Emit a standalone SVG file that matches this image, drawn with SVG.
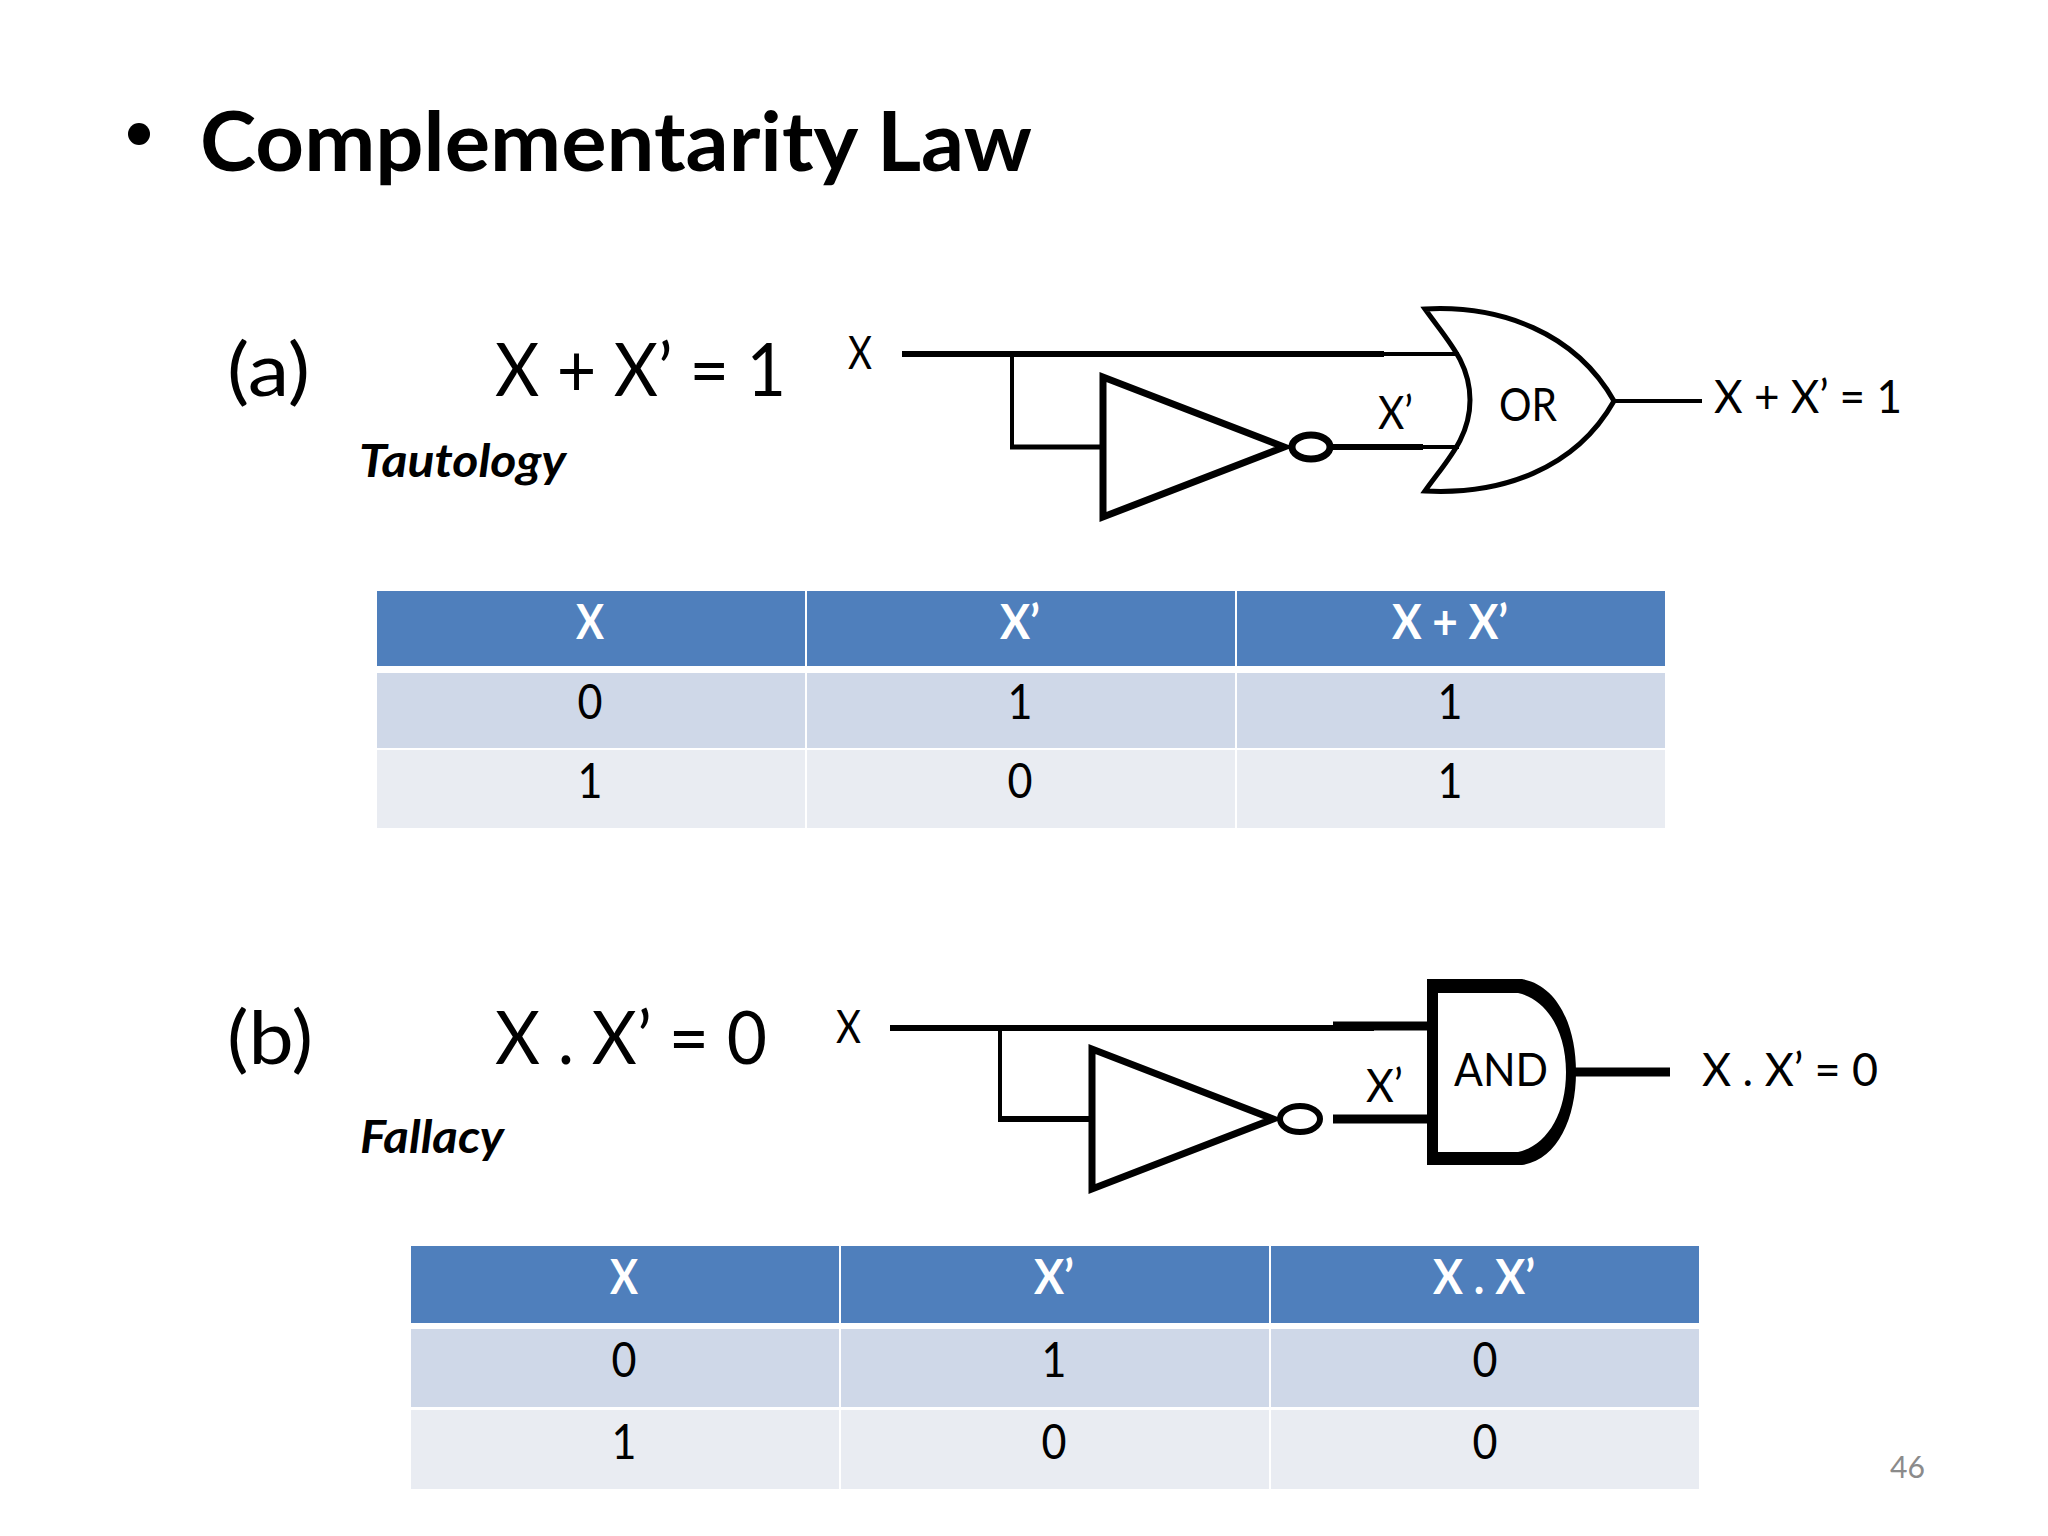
<svg xmlns="http://www.w3.org/2000/svg" width="2048" height="1536" viewBox="0 0 2048 1536">
<style>
text{font-family:"Lato","Carlito","Open Sans",sans-serif;fill:#000}
.eq{font-size:73px}
.lb{font-size:46px}
.th{font-size:48px;font-weight:700;fill:#fff;text-anchor:middle}
.td{font-size:48px;text-anchor:middle}
.it{font-size:45px;font-weight:700;font-style:italic}
.hd{fill:#4f7fbc}.r1{fill:#cfd8e8}.r2{fill:#e9ecf2}
.w{fill:none;stroke:#000;stroke-linejoin:miter}
</style>
<rect width="2048" height="1536" fill="#fff"/>
<g id="title">
<circle cx="139" cy="134" r="11" fill="#000"/>
<text x="200" y="171" font-size="83" font-weight="700" textLength="832" lengthAdjust="spacingAndGlyphs">Complementarity Law</text>
</g>
<g id="section-a">
<text class="eq" x="227" y="396" textLength="83" lengthAdjust="spacingAndGlyphs">(a)</text>
<text class="eq" x="495" y="396" textLength="291" lengthAdjust="spacingAndGlyphs">X + X’ = 1</text>
<text class="it" x="359" y="477" textLength="207" lengthAdjust="spacingAndGlyphs">Tautology</text>
</g>
<g id="connectors">
<path class="w" stroke-width="6" d="M902 354H1384"/>
<path class="w" stroke-width="4" d="M1384 354H1459"/>
<path class="w" stroke-width="4" d="M1012 354V447"/>
<path class="w" stroke-width="5" d="M1010 447H1102"/>
<path class="w" stroke-width="6" d="M1333 447H1423"/>
<path class="w" stroke-width="4" d="M1423 447H1459"/>
<path class="w" stroke-width="4" d="M1614 401H1702"/>
<path class="w" stroke-width="6" d="M890 1028H1374"/>
<path class="w" stroke-width="9" d="M1333 1026H1428"/>
<path class="w" stroke-width="4" d="M1000 1028V1119"/>
<path class="w" stroke-width="6" d="M998 1119H1091"/>
<path class="w" stroke-width="9" d="M1333 1119H1428"/>
<path class="w" stroke-width="9" d="M1575 1072H1670"/>
</g>
<g id="not-a">
<path class="w" stroke-width="7" d="M1103 377V517L1284 447Z"/>
<ellipse class="w" stroke-width="7" cx="1311" cy="447" rx="19" ry="12"/>
</g>
<g id="or-gate">
<path class="w" stroke-width="5" d="M1425 309C1447 340 1470 362 1470 400C1470 438 1447 460 1425 491C1500 495 1575 470 1614 401C1575 332 1500 305 1425 309Z"/>
<text class="lb" x="1499" y="421" textLength="58" lengthAdjust="spacingAndGlyphs">OR</text>
</g>
<g id="labels-a">
<text class="lb" x="848" y="369" textLength="24" lengthAdjust="spacingAndGlyphs">X</text>
<text class="lb" x="1378" y="429" textLength="35" lengthAdjust="spacingAndGlyphs">X’</text>
<text class="lb" x="1714" y="413" textLength="188" lengthAdjust="spacingAndGlyphs">X + X’ = 1</text>
</g>
<g id="table-a">
<rect class="hd" x="377" y="591" width="428" height="75"/><rect class="hd" x="807" y="591" width="428" height="75"/><rect class="hd" x="1237" y="591" width="428" height="75"/>
<rect class="r1" x="377" y="673" width="428" height="75"/><rect class="r1" x="807" y="673" width="428" height="75"/><rect class="r1" x="1237" y="673" width="428" height="75"/>
<rect class="r2" x="377" y="750" width="428" height="78"/><rect class="r2" x="807" y="750" width="428" height="78"/><rect class="r2" x="1237" y="750" width="428" height="78"/>
<text class="th" x="590" y="639" textLength="28" lengthAdjust="spacingAndGlyphs">X</text><text class="th" x="1020" y="639" textLength="40" lengthAdjust="spacingAndGlyphs">X’</text><text class="th" x="1450" y="639" textLength="116" lengthAdjust="spacingAndGlyphs">X + X’</text>
<text class="td" x="590" y="719" textLength="25" lengthAdjust="spacingAndGlyphs">0</text><text class="td" x="1020" y="719" textLength="25" lengthAdjust="spacingAndGlyphs">1</text><text class="td" x="1450" y="719" textLength="25" lengthAdjust="spacingAndGlyphs">1</text>
<text class="td" x="590" y="798" textLength="25" lengthAdjust="spacingAndGlyphs">1</text><text class="td" x="1020" y="798" textLength="25" lengthAdjust="spacingAndGlyphs">0</text><text class="td" x="1450" y="798" textLength="25" lengthAdjust="spacingAndGlyphs">1</text>
</g>
<g id="section-b">
<text class="eq" x="227" y="1064" textLength="86" lengthAdjust="spacingAndGlyphs">(b)</text>
<text class="eq" x="495" y="1064" textLength="272" lengthAdjust="spacingAndGlyphs">X . X’ = 0</text>
<text class="it" x="360" y="1153" textLength="144" lengthAdjust="spacingAndGlyphs">Fallacy</text>
</g>
<g id="not-b">
<path class="w" stroke-width="7" d="M1092 1049V1189L1273 1119Z"/>
<ellipse class="w" stroke-width="6" cx="1300" cy="1119" rx="20" ry="13"/>
</g>
<g id="and-gate">
<path fill="#000" fill-rule="evenodd" d="M1427 979H1522C1557 985 1576 1025 1576 1072C1576 1119 1557 1160 1522 1165H1427ZM1438 993V1152H1518C1546 1146 1566 1115 1566 1072C1566 1030 1546 999 1518 993Z"/>
<text class="lb" x="1454" y="1086" textLength="94" lengthAdjust="spacingAndGlyphs">AND</text>
</g>
<g id="labels-b">
<text class="lb" x="836" y="1043" textLength="25" lengthAdjust="spacingAndGlyphs">X</text>
<text class="lb" x="1366" y="1102" textLength="37" lengthAdjust="spacingAndGlyphs">X’</text>
<text class="lb" x="1702" y="1086" textLength="176" lengthAdjust="spacingAndGlyphs">X . X’ = 0</text>
</g>
<g id="table-b">
<rect class="hd" x="411" y="1246" width="428" height="77"/><rect class="hd" x="841" y="1246" width="428" height="77"/><rect class="hd" x="1271" y="1246" width="428" height="77"/>
<rect class="r1" x="411" y="1329" width="428" height="78"/><rect class="r1" x="841" y="1329" width="428" height="78"/><rect class="r1" x="1271" y="1329" width="428" height="78"/>
<rect class="r2" x="411" y="1410" width="428" height="79"/><rect class="r2" x="841" y="1410" width="428" height="79"/><rect class="r2" x="1271" y="1410" width="428" height="79"/>
<text class="th" x="624" y="1294" textLength="28" lengthAdjust="spacingAndGlyphs">X</text><text class="th" x="1054" y="1294" textLength="40" lengthAdjust="spacingAndGlyphs">X’</text><text class="th" x="1484" y="1294" textLength="102" lengthAdjust="spacingAndGlyphs">X . X’</text>
<text class="td" x="624" y="1377" textLength="25" lengthAdjust="spacingAndGlyphs">0</text><text class="td" x="1054" y="1377" textLength="25" lengthAdjust="spacingAndGlyphs">1</text><text class="td" x="1485" y="1377" textLength="25" lengthAdjust="spacingAndGlyphs">0</text>
<text class="td" x="624" y="1459" textLength="25" lengthAdjust="spacingAndGlyphs">1</text><text class="td" x="1054" y="1459" textLength="25" lengthAdjust="spacingAndGlyphs">0</text><text class="td" x="1485" y="1459" textLength="25" lengthAdjust="spacingAndGlyphs">0</text>
</g>
<text id="page" x="1890" y="1478" font-size="31" style="fill:#8b8b8b" textLength="35" lengthAdjust="spacingAndGlyphs">46</text>
</svg>
